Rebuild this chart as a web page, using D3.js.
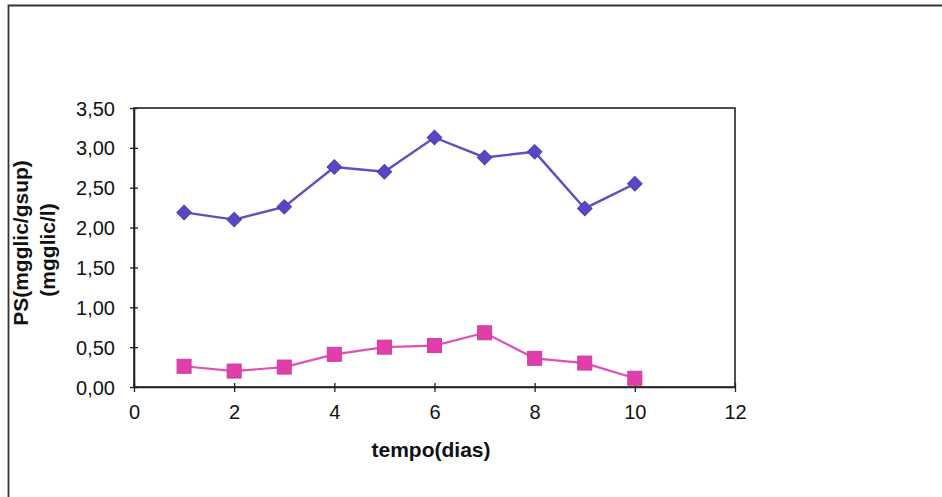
<!DOCTYPE html>
<html>
<head>
<meta charset="utf-8">
<script src="https://cdn.jsdelivr.net/npm/d3@7"></script>
<style>
  html, body { margin: 0; padding: 0; background: #fff; }
  svg { display: block; }
</style>
</head>
<body>
<svg id="chart" width="942" height="497"></svg>
<script>
// Days of sampling and measured values
const days = [1, 2, 3, 4, 5, 6, 7, 8, 9, 10];
const psSup = [2.19, 2.10, 2.26, 2.76, 2.70, 3.13, 2.88, 2.95, 2.24, 2.55];   // mgglic/gsup
const psLiq = [0.26, 0.20, 0.25, 0.41, 0.50, 0.52, 0.68, 0.36, 0.30, 0.11];   // mgglic/l
const xTicks = [0, 2, 4, 6, 8, 10, 12];
const yTicks = [0, 0.5, 1, 1.5, 2, 2.5, 3, 3.5];
const xTitle = "tempo(dias)";
const yTitleLines = ["PS(mgglic/gsup)", "(mgglic/l)"];

const svg = d3.select("#chart");
const font = "'Liberation Sans', Arial, sans-serif";

// outer frame (left and top edges)
svg.append("path")
  .attr("d", "M8.5,497 L8.5,5.5 L942,5.5")
  .attr("fill", "none").attr("stroke", "#333").attr("stroke-width", 1.8);

const plot = { left: 134, right: 735, top: 108, bottom: 387 };
const x = d3.scaleLinear().domain([0, 12]).range([plot.left, plot.right]);
const y = d3.scaleLinear().domain([0, 3.5]).range([plot.bottom, plot.top]);

// plot area frame
svg.append("rect")
  .attr("x", plot.left).attr("y", plot.top)
  .attr("width", plot.right - plot.left).attr("height", plot.bottom - plot.top)
  .attr("fill", "none").attr("stroke", "#222").attr("stroke-width", 1.6);

const fmt = d3.format(".2f");
const yAxis = svg.append("g")
  .attr("transform", `translate(${plot.left},0)`)
  .call(d3.axisLeft(y).tickValues(yTicks).tickSize(0)
        .tickFormat(d => fmt(d).replace(".", ",")));
yAxis.select(".domain").attr("stroke", "#222").attr("stroke-width", 1.6);
yAxis.selectAll(".tick line").attr("x1", -4).attr("x2", 4).attr("stroke", "#222").attr("stroke-width", 1.3);
yAxis.selectAll("text").attr("x", -19).attr("dy", "0.35em")
  .style("font-family", font).style("font-size", "20px").attr("fill", "#111");

const xAxis = svg.append("g")
  .attr("transform", `translate(0,${plot.bottom})`)
  .call(d3.axisBottom(x).tickValues(xTicks).tickSize(0).tickFormat(d3.format("d")));
xAxis.select(".domain").attr("stroke", "#222").attr("stroke-width", 1.6);
xAxis.selectAll(".tick line").attr("y1", -4).attr("y2", 5).attr("stroke", "#222").attr("stroke-width", 1.3);
xAxis.selectAll("text").attr("y", 18)
  .style("font-family", font).style("font-size", "20px").attr("fill", "#111");

// axis titles
svg.append("text")
  .attr("x", 431).attr("y", 457)
  .attr("text-anchor", "middle")
  .style("font-family", font).style("font-size", "21px").style("font-weight", "bold")
  .attr("fill", "#111").text(xTitle);

yTitleLines.forEach((t, i) => {
  const cx = i === 0 ? 28 : 55;
  const cy = i === 0 ? 243 : 250;
  svg.append("text")
    .attr("transform", `translate(${cx},${cy}) rotate(-90)`)
    .attr("text-anchor", "middle")
    .style("font-family", font).style("font-size", "21px").style("font-weight", "bold")
    .attr("fill", "#111").text(t);
});

const line = d3.line().x((d, i) => x(days[i])).y(d => y(d));

// series 1: diamonds
const blue = "#5a4fc4";
svg.append("path").datum(psSup).attr("d", line)
  .attr("fill", "none").attr("stroke", blue).attr("stroke-width", 2.4);
svg.selectAll(".dia").data(psSup).enter().append("path")
  .attr("d", d3.symbol(d3.symbolSquare, 105))
  .attr("transform", (d, i) => `translate(${x(days[i])},${y(d)}) rotate(45)`)
  .attr("fill", "#5548c2").attr("stroke", "#4a3fb0").attr("stroke-width", 1);

// series 2: squares
const pink = "#e050b8";
svg.append("path").datum(psLiq).attr("d", line)
  .attr("fill", "none").attr("stroke", pink).attr("stroke-width", 2.2);
svg.selectAll(".sq").data(psLiq).enter().append("rect")
  .attr("x", (d, i) => x(days[i]) - 7).attr("y", d => y(d) - 7)
  .attr("width", 14).attr("height", 14)
  .attr("fill", "#e03eaa").attr("stroke", "#d23a9e").attr("stroke-width", 1);
</script>
</body>
</html>
